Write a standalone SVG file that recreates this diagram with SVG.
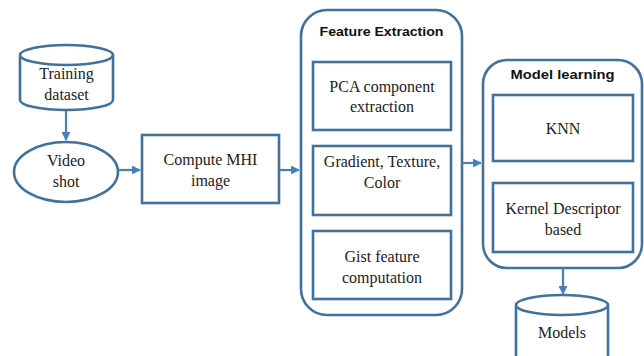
<svg xmlns="http://www.w3.org/2000/svg" width="644" height="356" viewBox="0 0 644 356">
<defs>
<marker id="arr" viewBox="0 0 10 10" refX="9" refY="5" markerWidth="4" markerHeight="4" orient="auto" markerUnits="strokeWidth">
<path d="M0,0 L10,5 L0,10 z" fill="#4a7ebb"/>
</marker>
<style>
.shape{fill:#fff;stroke:#41719c;stroke-width:2.6}
.t{font-size:16px;fill:#222;text-anchor:middle}
.h{font-family:'Liberation Sans',Arial,sans-serif;font-weight:bold;font-size:13px;fill:#111;text-anchor:middle}
.c{stroke:#4a7ebb;stroke-width:2.2;fill:none;marker-end:url(#arr)}
</style>
</defs>
<rect width="644" height="356" fill="#fff"/>
<g font-family="Liberation Serif, Times New Roman, serif">
<g id="training">
<path class="shape" d="M20,55 L20,100 A46.5,10 0 0 0 113,100 L113,55 A46.5,10 0 0 0 20,55 A46.5,10 0 0 0 113,55"/>
<text class="t" x="66.5" y="79">Training</text>
<text class="t" x="66.5" y="100">dataset</text>
</g>
<g id="video">
<ellipse class="shape" cx="66" cy="172" rx="52" ry="30"/>
<text class="t" x="66" y="166">Video</text>
<text class="t" x="66" y="187">shot</text>
</g>
<g id="mhi">
<rect class="shape" x="142" y="135" width="137" height="68"/>
<text class="t" x="210.5" y="165">Compute MHI</text>
<text class="t" x="210.5" y="186">image</text>
</g>
<g id="fe">
<rect class="shape" x="301" y="10" width="161" height="305" rx="26"/>
<text class="h" x="381.5" y="36" textLength="124" lengthAdjust="spacingAndGlyphs">Feature Extraction</text>
<g id="pca">
<rect class="shape" x="313" y="62" width="138" height="68"/>
<text class="t" x="382" y="92">PCA component</text>
<text class="t" x="382" y="112">extraction</text>
</g>
<g id="grad">
<rect class="shape" x="313" y="146" width="138" height="69"/>
<text class="t" x="382" y="167">Gradient, Texture,</text>
<text class="t" x="382" y="188">Color</text>
</g>
<g id="gist">
<rect class="shape" x="313" y="231" width="138" height="68"/>
<text class="t" x="382" y="262">Gist feature</text>
<text class="t" x="382" y="283">computation</text>
</g>
</g>
<g id="ml">
<rect class="shape" x="483" y="60" width="159" height="208" rx="24"/>
<text class="h" x="562.5" y="79" textLength="104" lengthAdjust="spacingAndGlyphs">Model learning</text>
<g id="knn">
<rect class="shape" x="493" y="95" width="140" height="66"/>
<text class="t" x="563" y="134">KNN</text>
</g>
<g id="kernel">
<rect class="shape" x="493" y="183" width="140" height="69"/>
<text class="t" x="563" y="214">Kernel Descriptor</text>
<text class="t" x="563" y="235">based</text>
</g>
</g>
<g id="models">
<path class="shape" d="M516,305 L516,360 L608,360 L608,305 A46,10 0 0 0 516,305 A46,10 0 0 0 608,305"/>
<text class="t" x="562" y="338">Models</text>
</g>
</g>
<g id="connectors">
<line class="c" x1="66" y1="111" x2="66" y2="140"/>
<line class="c" x1="118" y1="170" x2="140" y2="170"/>
<line class="c" x1="279" y1="170" x2="299" y2="170"/>
<line class="c" x1="462" y1="163" x2="481" y2="163"/>
<line class="c" x1="563" y1="268" x2="563" y2="294"/>
</g>
</svg>
